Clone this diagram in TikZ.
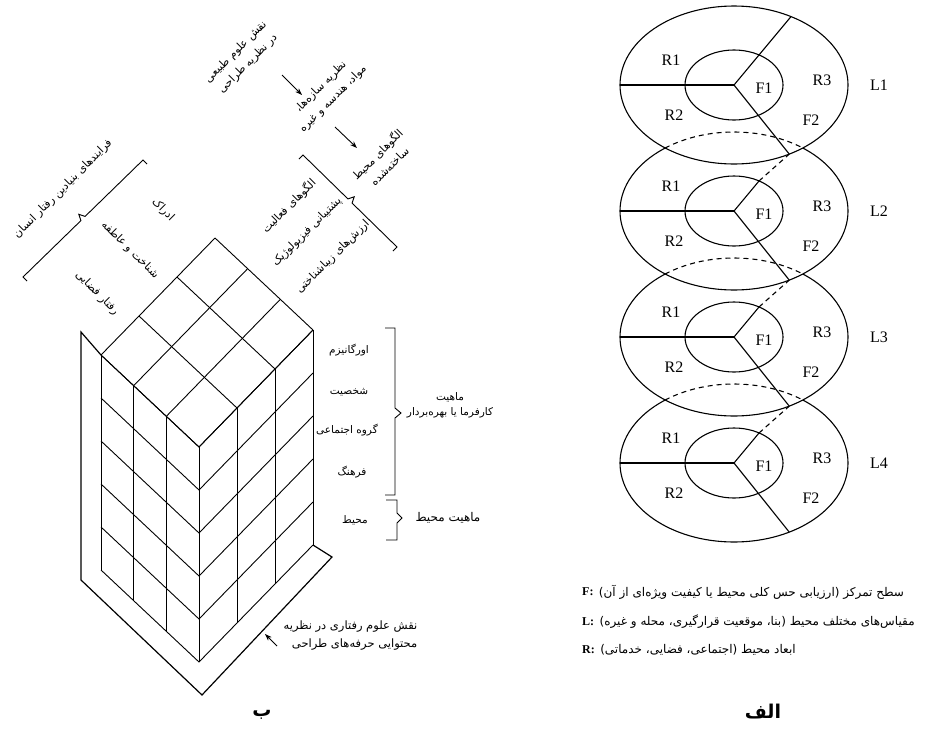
\documentclass[tikz,border=0pt]{standalone}
\usepackage{fontspec}
\setmainfont{Liberation Serif}
\newfontfamily\arabicfont[Script=Arabic]{DejaVu Sans}
\TeXXeTstate=1
\usetikzlibrary{arrows.meta,calc}
\newcommand\fa[1]{\beginR#1\endR}

\begin{document}
\begin{tikzpicture}[x=1pt, y=-1pt,
  >={Stealth[length=7pt, width=5pt]},
  fa/.style={font=\arabicfont\fontsize{11}{17}\selectfont, inner sep=0.5pt, align=center},
  fcol/.style={fa, font=\arabicfont\fontsize{10.5}{15}\selectfont},
  farr/.style={fa, align=right, font=\arabicfont\fontsize{11.5}{18}\selectfont},
  legtxt/.style={font=\arabicfont\fontsize{12}{14}\selectfont, inner sep=1pt},
  rlab/.style={font=\fontsize{16}{18}\selectfont, inner sep=0pt},
  keylab/.style={font=\fontsize{12}{14}\selectfont\bfseries, inner sep=1pt},
  figcap/.style={font=\arabicfont\fontsize{19}{22}\selectfont\bfseries, inner sep=0pt},
  gridln/.style={line width=0.9pt},
  wall/.style={line width=1.2pt},
  brk/.style={line width=0.9pt},
  disk/.style={line width=1.1pt},
  hid/.style={disk, dash pattern=on 5pt off 4pt}]
\fill[white] (0,0) rectangle (927,729);
\useasboundingbox (0,0) rectangle (927,729);

% ---- right figure: stacked levels
\foreach \k in {1,...,4} {
  \coordinate (c\k) at (734, 85+126*\k-126);
  \path (c\k) ++(61:114 and 79) coordinate (dn\k);
}
\foreach \k/\j/\n in {4/3/5, 3/2/4, 2/1/3, 1/0/2} {
  \ifnum\k<4
    \fill[white] (c\k) ellipse [x radius=114, y radius=79];
    \begin{scope}
      \clip (c\k) ellipse [x radius=114, y radius=79];
      \draw[hid] (c\n) ellipse [x radius=114, y radius=79];
    \end{scope}
  \fi
  \draw[disk] (c\k) ellipse [x radius=114, y radius=79];
  \draw[disk] (c\k) ellipse [x radius=49, y radius=35];
  \draw[disk] (c\k) -- ++(-114,0);
  \draw[disk] (c\k) -- (dn\k);
  \ifnum\k=1
    \draw[disk] (c\k) -- ++(-60:114 and 79);
  \else
    \draw[disk] (c\k) -- ++(25,-30) coordinate (in\k);
    \draw[hid] (in\k) -- (dn\j);
  \fi
  \node[rlab] (ra\k) at ($(c\k)+(-63,-25)$) {R1};
  \node[rlab] (rb\k) at ($(c\k)+(-60,30)$) {R2};
  \node[rlab] (fa\k) at ($(c\k)+(30,3)$) {F1};
  \node[rlab] (rc\k) at ($(c\k)+(88,-5)$) {R3};
  \node[rlab] (fb\k) at ($(c\k)+(77,35)$) {F2};
  \node[rlab] (lv\k) at ($(c\k)+(145,0)$) {L\k};
}

% legend
\node[keylab, anchor=west] (kf) at (581,592) {F:};
\node[legtxt, anchor=west] (tf) at ([xshift=3pt]kf.east) {\fa{سطح تمرکز (ارزیابی حس کلی محیط  یا کیفیت ویژه‌ای از آن)}};
\node[keylab, anchor=west] (kl) at (581,622) {L:};
\node[legtxt, anchor=west] (tl) at ([xshift=3pt]kl.east) {\fa{مقیاس‌های مختلف محیط (بنا، موقعیت قرارگیری، محله و غیره)}};
\node[keylab, anchor=west] (kr) at (581,650) {R:};
\node[legtxt, anchor=west] (tr) at ([xshift=3pt]kr.east) {\fa{ابعاد محیط (اجتماعی، فضایی، خدماتی)}};
\node[figcap] (alef) at (763,712) {\fa{الف}};

% ---- left figure: box
\coordinate (F) at (199,447);
\coordinate (L) at (101,355);
\coordinate (R) at (313,330);
\foreach \i in {0,...,3} {
  \draw[gridln] ($(F)!\i/3!(L)$) -- ++(114,-117);
  \draw[gridln] ($(F)!\i/3!(R)$) -- ++(-98,-92);
  \draw[gridln] ($(F)!\i/3!(L)$) -- ++(0,215);
  \draw[gridln] ($(F)!\i/3!(R)$) -- ++(0,215);
}
\foreach \k in {0,...,5}
  \draw[gridln] (L) ++(0,43*\k) -- ++(98,92) -- ++(114,-117);

% wall and floor
\coordinate (wa) at (81,332);
\coordinate (wb) at (81,580);
\coordinate (fv) at (202,695);
\coordinate (fr) at (332,557);
\draw[wall] (L) -- (wa) -- (wb) -- (fv) -- (fr) -- ($(R)+(0,215)$);

% top labels
\node[fa, rotate=45] (nat) at (242,58) {\fa{نقش علوم طبیعی}\\\fa{در نظریه طراحی}};
\node[fa, rotate=45] (str) at (327,93) {\fa{نظریه سازه‌ها،}\\\fa{مواد، هندسه و غیره}};
\node[fa, rotate=45] (env) at (383,160) {\fa{الگوهای محیط}\\\fa{ساخته‌شده}};
\coordinate (a1) at (282,75);
\coordinate (a2) at (302,95);
\coordinate (a3) at (335,127);
\coordinate (a4) at (357,148);
\draw[->, line width=0.9pt] (a1) -- (a2);
\draw[->, line width=0.9pt] (a3) -- (a4);

% bracket over the activity patterns
\draw[brk] (299,159) -- (303,155) -- (347.9,198.9) -- (354.2,196.8) -- (352.1,203.1) -- (397,247) -- (393,251);
\node[fa, rotate=45] (act) at (289,206) {\fa{الگوهای فعالیت}};
\node[fa, rotate=45] (phy) at (307,232) {\fa{پشتیبانی فیزیولوژیک}};
\node[fa, rotate=45] (aes) at (333,257) {\fa{ارزش‌های زیباشناختی}};

% bracket over the basic processes
\draw[brk] (27,281) -- (23,277) -- (80.9,220.6) -- (78.8,214.3) -- (85.1,216.4) -- (143,160) -- (147,164);
\node[fa, rotate=45] (prc) at (63,189) {\fa{فرایندهای بنیادین رفتار انسان}};
\node[fa, rotate=-45] (per) at (163,210) {\fa{ادراک}};
\node[fa, rotate=-45] (cog) at (130,250) {\fa{شناخت و عاطفه}};
\node[fa, rotate=-45] (spb) at (97,293) {\fa{رفتار فضایی}};

% right face labels and braces
\node[fcol] (org) at (349,350) {\fa{اورگانیزم}};
\node[fcol] (prs) at (349,392) {\fa{شخصیت}};
\node[fcol] (grp) at (347,430) {\fa{گروه اجتماعی}};
\node[fcol] (cul) at (352,472) {\fa{فرهنگ}};
\node[fcol] (mhe) at (355,520) {\fa{محیط}};
\draw[brk] (385,328) -- (395,328) -- (395,408) -- (401,413) -- (395,418) -- (395,495) -- (385,495);
\draw[brk] (386,500) -- (397,500) -- (397,513) -- (402,518) -- (397,523) -- (397,540) -- (386,540);
\node[fcol] (cli) at (450,405) {\fa{ماهیت}\\\fa{کارفرما یا بهره‌بردار}};
\node[fa, font=\arabicfont\fontsize{12}{14}\selectfont] (nen) at (448,518) {\fa{ماهیت محیط}};

% bottom note
\node[farr, anchor=east] (beh) at (418,636) {\fa{نقش علوم رفتاری در نظریه}\\\fa{محتوایی حرفه‌های طراحی}};
\coordinate (a5) at (277,646);
\coordinate (a6) at (265,634);
\draw[->, line width=0.9pt] (a5) -- (a6);
\node[figcap] (be) at (262,715) {\fa{ب}};
\end{tikzpicture}
\end{document}
